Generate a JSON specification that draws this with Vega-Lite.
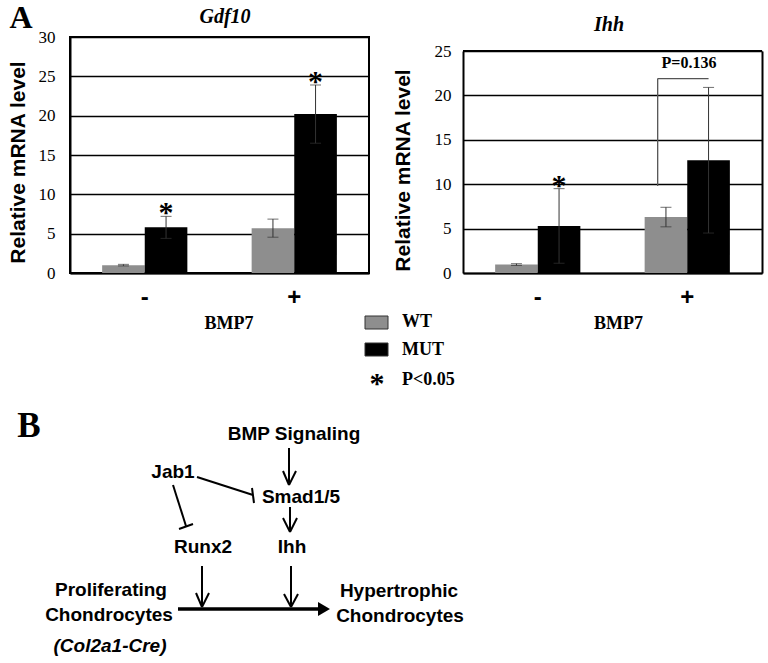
{
  "$schema": "https://vega.github.io/schema/vega-lite/v6.json",
  "autosize": {"type": "none"},
  "padding": {"left": 70, "top": 37, "right": 698, "bottom": 626},
  "background": "white",
  "config": {"view": {"stroke": null}},
  "datasets": {
    "bars": [
      {"gene": "Gdf10", "bmp": "-", "geno": "WT", "value": 1.0, "lo": 0.9, "hi": 1.1, "sig": false},
      {"gene": "Gdf10", "bmp": "-", "geno": "MUT", "value": 5.8, "lo": 4.4, "hi": 7.2, "sig": true},
      {"gene": "Gdf10", "bmp": "+", "geno": "WT", "value": 5.7, "lo": 4.55, "hi": 6.85, "sig": false},
      {"gene": "Gdf10", "bmp": "+", "geno": "MUT", "value": 20.2, "lo": 16.5, "hi": 23.9, "sig": true},
      {"gene": "Ihh", "bmp": "-", "geno": "WT", "value": 0.95, "lo": 0.85, "hi": 1.05, "sig": false},
      {"gene": "Ihh", "bmp": "-", "geno": "MUT", "value": 5.3, "lo": 1.1, "hi": 9.5, "sig": true},
      {"gene": "Ihh", "bmp": "+", "geno": "WT", "value": 6.3, "lo": 5.2, "hi": 7.4, "sig": false},
      {"gene": "Ihh", "bmp": "+", "geno": "MUT", "value": 12.7, "lo": 4.5, "hi": 20.9, "sig": false}
    ],
    "bracket": [
      {"bmp": "+", "lo": 9.8, "hi": 21.9, "ty": 23.6, "label": "P=0.136"}
    ],
    "segs": [
      {"x": 289, "y": 448, "x2": 289, "y2": 485, "kind": "thin"},
      {"x": 283, "y": 471, "x2": 289, "y2": 485, "kind": "thin"},
      {"x": 296, "y": 471, "x2": 289, "y2": 485, "kind": "thin"},
      {"x": 290, "y": 507, "x2": 290, "y2": 532, "kind": "thin"},
      {"x": 283, "y": 518, "x2": 290, "y2": 532, "kind": "thin"},
      {"x": 297, "y": 518, "x2": 290, "y2": 532, "kind": "thin"},
      {"x": 202, "y": 566, "x2": 202, "y2": 607, "kind": "thin"},
      {"x": 196, "y": 593, "x2": 202, "y2": 607, "kind": "thin"},
      {"x": 209, "y": 593, "x2": 202, "y2": 607, "kind": "thin"},
      {"x": 291, "y": 566, "x2": 291, "y2": 607, "kind": "thin"},
      {"x": 284, "y": 594, "x2": 291, "y2": 607, "kind": "thin"},
      {"x": 298, "y": 594, "x2": 291, "y2": 607, "kind": "thin"},
      {"x": 197, "y": 477, "x2": 253, "y2": 495, "kind": "thin"},
      {"x": 252, "y": 488, "x2": 254, "y2": 503, "kind": "thin"},
      {"x": 173, "y": 485, "x2": 186, "y2": 526, "kind": "thin"},
      {"x": 179, "y": 529, "x2": 193, "y2": 524, "kind": "thin"},
      {"x": 178, "y": 609, "x2": 320, "y2": 609, "kind": "main"}
    ],
    "heads": [
      {"x": 324, "y": 609}
    ],
    "boxes": [
      {"geno": "WT", "x": 365, "y": 316, "x2": 388, "y2": 329},
      {"geno": "MUT", "x": 365, "y": 343, "x2": 388, "y2": 356}
    ],
    "texts": [
      {"kind": "panel", "text": "A", "x": 21, "y": 18},
      {"kind": "panelB", "text": "B", "x": 29, "y": 426},
      {"kind": "title", "text": "Gdf10", "x": 225, "y": 17},
      {"kind": "title", "text": "Ihh", "x": 609, "y": 25},
      {"kind": "diag", "text": "BMP Signaling", "x": 294, "y": 434},
      {"kind": "diag", "text": "Jab1", "x": 173, "y": 472},
      {"kind": "diag", "text": "Smad1/5", "x": 301, "y": 497},
      {"kind": "diag", "text": "Runx2", "x": 203, "y": 547},
      {"kind": "diag", "text": "Ihh", "x": 292, "y": 547},
      {"kind": "diag", "text": "Proliferating", "x": 111, "y": 590},
      {"kind": "diag", "text": "Chondrocytes", "x": 109, "y": 615},
      {"kind": "diag", "text": "Hypertrophic", "x": 399, "y": 591},
      {"kind": "diag", "text": "Chondrocytes", "x": 400, "y": 616},
      {"kind": "diagItalic", "text": "(Col2a1-Cre)", "x": 110, "y": 646},
      {"kind": "legend", "text": "WT", "x": 402, "y": 322},
      {"kind": "legend", "text": "MUT", "x": 402, "y": 350},
      {"kind": "legend", "text": "P<0.05", "x": 402, "y": 380},
      {"kind": "star", "text": "*", "x": 377, "y": 384}
    ]
  },
  "hconcat": [
    {
      "width": 299,
      "height": 236,
      "view": {"stroke": "black", "strokeWidth": 2},
      "layer": [
        {
          "data": {"name": "bars"},
          "transform": [{"filter": "datum.gene === 'Gdf10'"}],
          "encoding": {
            "x": {"field": "bmp", "type": "nominal", "sort": ["-", "+"],
              "scale": {"type": "band", "paddingInner": 0.43, "paddingOuter": 0.215},
              "axis": {"title": "BMP7", "titleFont": "Liberation Serif", "titleFontSize": 18, "titleFontWeight": "bold", "titleColor": "black", "titleX": 158.5, "titleY": 55, "titleBaseline": "alphabetic", "titleAlign": "center", "labelFont": "Liberation Sans", "labelFontWeight": "bold", "labelFontSize": 24, "labelColor": "black", "labelAngle": 0, "labelPadding": 12, "ticks": false, "domainColor": "black", "domainWidth": 2}},
            "xOffset": {"field": "geno", "type": "nominal", "sort": ["WT", "MUT"], "scale": {"paddingInner": 0, "paddingOuter": 0}}
          },
          "layer": [
            {
              "mark": {"type": "bar"},
              "encoding": {
                "y": {"field": "value", "type": "quantitative",
                  "scale": {"domain": [0, 30], "nice": false},
                  "axis": {"title": "Relative mRNA level", "titleFont": "Liberation Sans", "titleFontWeight": "bold", "titleFontSize": 21, "titleColor": "black", "titleX": -52, "titleY": 125, "titleAngle": -90, "titleBaseline": "middle", "titleAlign": "center", "values": [0, 5, 10, 15, 20, 25, 30], "labelOverlap": false, "labelFont": "Liberation Serif", "labelFontSize": 17, "labelColor": "black", "labelPadding": 15, "ticks": false, "domainColor": "black", "domainWidth": 2, "grid": true, "gridColor": "black", "gridWidth": 1.3}},
                "color": {"field": "geno", "type": "nominal", "scale": {"domain": ["WT", "MUT"], "range": ["#8e8e8e", "#000000"]}, "legend": null}
              }
            },
            {
              "mark": {"type": "rule", "color": "#333333", "strokeWidth": 1},
              "encoding": {"y": {"field": "lo", "type": "quantitative",
                  "axis": {"title": "Relative mRNA level", "titleFont": "Liberation Sans", "titleFontWeight": "bold", "titleFontSize": 21, "titleColor": "black", "titleX": -52, "titleY": 125, "titleAngle": -90, "titleBaseline": "middle", "titleAlign": "center", "values": [0, 5, 10, 15, 20, 25, 30], "labelOverlap": false, "labelFont": "Liberation Serif", "labelFontSize": 17, "labelColor": "black", "labelPadding": 15, "ticks": false, "domainColor": "black", "domainWidth": 2, "grid": true, "gridColor": "black", "gridWidth": 1.3}},
                "y2": {"field": "hi"}}
            },
            {
              "mark": {"type": "tick", "orient": "horizontal", "size": 11, "thickness": 1, "color": "#333333"},
              "encoding": {"y": {"field": "hi", "type": "quantitative",
                  "axis": {"title": "Relative mRNA level", "titleFont": "Liberation Sans", "titleFontWeight": "bold", "titleFontSize": 21, "titleColor": "black", "titleX": -52, "titleY": 125, "titleAngle": -90, "titleBaseline": "middle", "titleAlign": "center", "values": [0, 5, 10, 15, 20, 25, 30], "labelOverlap": false, "labelFont": "Liberation Serif", "labelFontSize": 17, "labelColor": "black", "labelPadding": 15, "ticks": false, "domainColor": "black", "domainWidth": 2, "grid": true, "gridColor": "black", "gridWidth": 1.3}}}
            },
            {
              "mark": {"type": "tick", "orient": "horizontal", "size": 11, "thickness": 1, "color": "#333333"},
              "encoding": {"y": {"field": "lo", "type": "quantitative",
                  "axis": {"title": "Relative mRNA level", "titleFont": "Liberation Sans", "titleFontWeight": "bold", "titleFontSize": 21, "titleColor": "black", "titleX": -52, "titleY": 125, "titleAngle": -90, "titleBaseline": "middle", "titleAlign": "center", "values": [0, 5, 10, 15, 20, 25, 30], "labelOverlap": false, "labelFont": "Liberation Serif", "labelFontSize": 17, "labelColor": "black", "labelPadding": 15, "ticks": false, "domainColor": "black", "domainWidth": 2, "grid": true, "gridColor": "black", "gridWidth": 1.3}}}
            },
            {
              "transform": [{"filter": "datum.sig"}],
              "mark": {"type": "text", "text": "*", "font": "Liberation Serif", "fontWeight": "bold", "fontSize": 30, "baseline": "alphabetic", "align": "center", "dy": 6, "color": "black"},
              "encoding": {"y": {"field": "hi", "type": "quantitative",
                  "axis": {"title": "Relative mRNA level", "titleFont": "Liberation Sans", "titleFontWeight": "bold", "titleFontSize": 21, "titleColor": "black", "titleX": -52, "titleY": 125, "titleAngle": -90, "titleBaseline": "middle", "titleAlign": "center", "values": [0, 5, 10, 15, 20, 25, 30], "labelOverlap": false, "labelFont": "Liberation Serif", "labelFontSize": 17, "labelColor": "black", "labelPadding": 15, "ticks": false, "domainColor": "black", "domainWidth": 2, "grid": true, "gridColor": "black", "gridWidth": 1.3}}}
            }
          ]
        },
        {
          "encoding": {
            "x": {"field": "x", "type": "quantitative", "scale": {"domain": [0, 768], "range": [-70, 698], "nice": false, "zero": false}, "axis": null},
            "y": {"field": "y", "type": "quantitative", "scale": {"domain": [0, 663], "range": [-37, 626], "nice": false, "zero": false}, "axis": null}
          },
          "layer": [
            {
              "data": {"name": "segs"},
              "transform": [{"filter": "datum.kind === 'thin'"}],
              "mark": {"type": "rule", "color": "black", "strokeWidth": 2},
              "encoding": {"x2": {"field": "x2"}, "y2": {"field": "y2"}}
            },
            {
              "data": {"name": "segs"},
              "transform": [{"filter": "datum.kind === 'main'"}],
              "mark": {"type": "rule", "color": "black", "strokeWidth": 3.5},
              "encoding": {"x2": {"field": "x2"}, "y2": {"field": "y2"}}
            },
            {
              "data": {"name": "heads"},
              "mark": {"type": "point", "shape": "triangle-right", "size": 190, "filled": true, "color": "black", "opacity": 1},
              "encoding": {}
            },
            {
              "data": {"name": "boxes"},
              "mark": {"type": "rect", "stroke": "#333333", "strokeWidth": 1},
              "encoding": {"x2": {"field": "x2"}, "y2": {"field": "y2"},
                "color": {"field": "geno", "type": "nominal", "scale": {"domain": ["WT", "MUT"], "range": ["#8e8e8e", "#000000"]}, "legend": null}}
            },
            {
              "data": {"name": "texts"},
              "transform": [{"filter": "datum.kind === 'panel'"}],
              "mark": {"type": "text", "font": "Liberation Serif", "fontWeight": "bold", "fontSize": 32, "baseline": "middle", "align": "center", "color": "black"},
              "encoding": {"text": {"field": "text"}}
            },
            {
              "data": {"name": "texts"},
              "transform": [{"filter": "datum.kind === 'panelB'"}],
              "mark": {"type": "text", "font": "Liberation Serif", "fontWeight": "bold", "fontSize": 35, "baseline": "middle", "align": "center", "color": "black"},
              "encoding": {"text": {"field": "text"}}
            },
            {
              "data": {"name": "texts"},
              "transform": [{"filter": "datum.kind === 'title'"}],
              "mark": {"type": "text", "font": "Liberation Serif", "fontWeight": "bold", "fontStyle": "italic", "fontSize": 20, "baseline": "middle", "align": "center", "color": "black"},
              "encoding": {"text": {"field": "text"}}
            },
            {
              "data": {"name": "texts"},
              "transform": [{"filter": "datum.kind === 'diag'"}],
              "mark": {"type": "text", "font": "Liberation Sans", "fontWeight": "bold", "fontSize": 19, "baseline": "middle", "align": "center", "color": "black"},
              "encoding": {"text": {"field": "text"}}
            },
            {
              "data": {"name": "texts"},
              "transform": [{"filter": "datum.kind === 'diagItalic'"}],
              "mark": {"type": "text", "font": "Liberation Sans", "fontWeight": "bold", "fontStyle": "italic", "fontSize": 19, "baseline": "middle", "align": "center", "color": "black"},
              "encoding": {"text": {"field": "text"}}
            },
            {
              "data": {"name": "texts"},
              "transform": [{"filter": "datum.kind === 'legend'"}],
              "mark": {"type": "text", "font": "Liberation Serif", "fontWeight": "bold", "fontSize": 18, "baseline": "middle", "align": "left", "color": "black"},
              "encoding": {"text": {"field": "text"}}
            },
            {
              "data": {"name": "texts"},
              "transform": [{"filter": "datum.kind === 'star'"}],
              "mark": {"type": "text", "font": "Liberation Serif", "fontWeight": "bold", "fontSize": 30, "baseline": "middle", "align": "center", "color": "black"},
              "encoding": {"text": {"field": "text"}}
            }
          ]
        }
      ],
      "resolve": {"scale": {"x": "independent", "y": "independent"}}
    },
    {
      "width": 299,
      "height": 236,
      "view": {"stroke": null},
      "layer": [
        {
          "encoding": {
            "x": {"field": "bmp", "type": "nominal", "sort": ["-", "+"],
              "scale": {"type": "band", "paddingInner": 0.43, "paddingOuter": 0.215},
              "axis": {"title": "BMP7", "titleFont": "Liberation Serif", "titleFontSize": 18, "titleFontWeight": "bold", "titleColor": "black", "titleX": 155, "titleY": 55, "titleBaseline": "alphabetic", "titleAlign": "center", "labelFont": "Liberation Sans", "labelFontWeight": "bold", "labelFontSize": 24, "labelColor": "black", "labelAngle": 0, "labelPadding": 12, "ticks": false, "domainColor": "black", "domainWidth": 2}}
          },
          "layer": [
            {
              "data": {"name": "bars"},
              "transform": [{"filter": "datum.gene === 'Ihh'"}],
              "encoding": {
                "xOffset": {"field": "geno", "type": "nominal", "sort": ["WT", "MUT"], "scale": {"paddingInner": 0, "paddingOuter": 0}}
              },
              "layer": [
                {
                  "mark": {"type": "bar"},
                  "encoding": {
                    "y": {"field": "value", "type": "quantitative",
                      "scale": {"domain": [0, 25], "range": [236, 14], "nice": false},
                      "axis": {"title": "Relative mRNA level", "titleFont": "Liberation Sans", "titleFontWeight": "bold", "titleFontSize": 21, "titleColor": "black", "titleX": -60, "titleY": 133, "titleAngle": -90, "titleBaseline": "middle", "titleAlign": "center", "values": [0, 5, 10, 15, 20, 25], "labelOverlap": false, "labelFont": "Liberation Serif", "labelFontSize": 17, "labelColor": "black", "labelPadding": 12, "ticks": false, "domainColor": "black", "domainWidth": 2, "grid": true, "gridColor": "black", "gridWidth": 1.3}},
                    "color": {"field": "geno", "type": "nominal", "scale": {"domain": ["WT", "MUT"], "range": ["#8e8e8e", "#000000"]}, "legend": null}
                  }
                },
                {
                  "mark": {"type": "rule", "color": "#333333", "strokeWidth": 1},
                  "encoding": {"y": {"field": "lo", "type": "quantitative"}, "y2": {"field": "hi"}}
                },
                {
                  "mark": {"type": "tick", "orient": "horizontal", "size": 11, "thickness": 1, "color": "#333333"},
                  "encoding": {"y": {"field": "hi", "type": "quantitative"}}
                },
                {
                  "mark": {"type": "tick", "orient": "horizontal", "size": 11, "thickness": 1, "color": "#333333"},
                  "encoding": {"y": {"field": "lo", "type": "quantitative"}}
                },
                {
                  "transform": [{"filter": "datum.sig"}],
                  "mark": {"type": "text", "text": "*", "font": "Liberation Serif", "fontWeight": "bold", "fontSize": 30, "baseline": "alphabetic", "align": "center", "dy": 6, "color": "black"},
                  "encoding": {"y": {"field": "hi", "type": "quantitative"}}
                }
              ]
            },
            {
              "data": {"name": "bracket"},
              "layer": [
                {
                  "mark": {"type": "rule", "color": "#555555", "strokeWidth": 1.3},
                  "encoding": {
                    "x": {"field": "bmp", "type": "nominal", "bandPosition": 0.153},
                    "y": {"field": "lo", "type": "quantitative"},
                    "y2": {"field": "hi"}
                  }
                },
                {
                  "mark": {"type": "rule", "color": "#555555", "strokeWidth": 1.3},
                  "encoding": {
                    "x": {"field": "bmp", "type": "nominal", "bandPosition": 0.153},
                    "x2": {"field": "bmp", "bandPosition": 0.75},
                    "y": {"field": "hi", "type": "quantitative"}
                  }
                },
                {
                  "mark": {"type": "text", "font": "Liberation Serif", "fontWeight": "bold", "fontSize": 16, "baseline": "middle", "align": "center", "color": "black"},
                  "encoding": {
                    "x": {"field": "bmp", "type": "nominal", "bandPosition": 0.52},
                    "y": {"field": "ty", "type": "quantitative"},
                    "text": {"field": "label"}
                  }
                }
              ]
            }
          ]
        },
        {
          "data": {"name": "bracket"},
          "mark": {"type": "rule", "color": "black", "strokeWidth": 2},
          "encoding": {
            "y": {"datum": 25, "type": "quantitative",
              "scale": {"domain": [0, 25], "range": [236, 14], "nice": false},
              "axis": {"orient": "right", "labels": false, "ticks": false, "grid": false, "domain": true, "domainColor": "black", "domainWidth": 2, "title": null}}
          }
        }
      ],
      "resolve": {"scale": {"y": "independent"}}
    }
  ],
  "bounds": "flush",
  "spacing": 94
}
